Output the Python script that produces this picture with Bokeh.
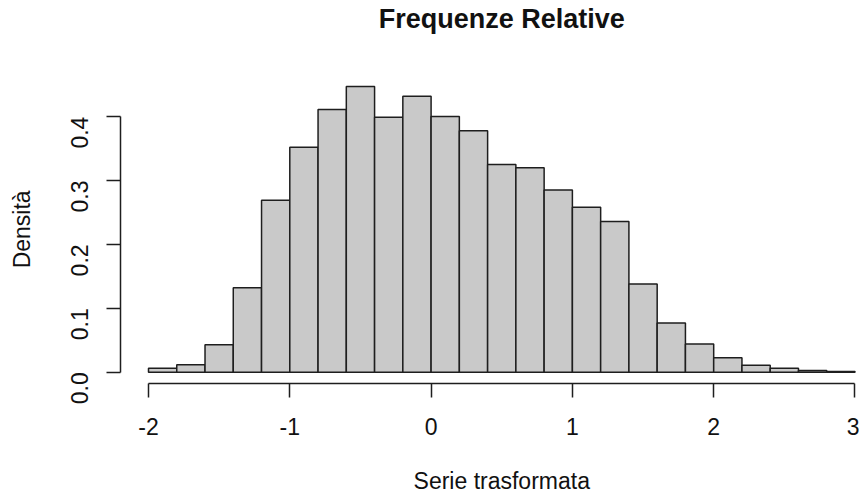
from bokeh.plotting import figure
from bokeh.models import ColumnDataSource, FixedTicker, NumeralTickFormatter, Range1d, Label
from bokeh.embed import file_html
from bokeh.resources import INLINE
import math

# Histogram bins and relative-frequency densities
bin_left = [-2.0, -1.8, -1.6, -1.4, -1.2, -1.0, -0.8, -0.6, -0.4, -0.2,
            0.0, 0.2, 0.4, 0.6, 0.8, 1.0, 1.2, 1.4, 1.6, 1.8,
            2.0, 2.2, 2.4, 2.6, 2.8]
bin_right = [-1.8, -1.6, -1.4, -1.2, -1.0, -0.8, -0.6, -0.4, -0.2, 0.0,
             0.2, 0.4, 0.6, 0.8, 1.0, 1.2, 1.4, 1.6, 1.8, 2.0,
             2.2, 2.4, 2.6, 2.8, 3.0]
density = [0.006, 0.0115, 0.043, 0.132, 0.269, 0.352, 0.411, 0.447, 0.399, 0.432,
           0.400, 0.378, 0.325, 0.320, 0.285, 0.258, 0.236, 0.138, 0.077, 0.044,
           0.0225, 0.011, 0.006, 0.0025, 0.001]

x_ticks = [-2, -1, 0, 1, 2, 3]
x_tick_labels = ["-2", "-1", "0", "1", "2", "3"]
y_ticks = [0.0, 0.1, 0.2, 0.3, 0.4]

FONT = "Liberation Sans"
INK = "#111111"
LINE = "#1e1e1e"

src = ColumnDataSource(dict(left=bin_left, right=bin_right, top=density,
                            bottom=[0.0] * len(density)))

# Plot region in the R sense: data range padded by 4% on each side
x_lo, x_hi = bin_left[0], bin_right[-1]
x_pad = 0.04 * (x_hi - x_lo)
y_hi = max(density)
y_pad = 0.04 * y_hi

# The frame covers the whole canvas; axes are pinned at the plot-region edges
p = figure(width=859, height=495, output_backend="svg", toolbar_location=None,
           x_range=Range1d(-3.0474, 3.0319), y_range=Range1d(-0.19296, 0.58169),
           min_border=0)

p.quad(left="left", right="right", top="top", bottom="bottom", source=src,
       fill_color="#c9c9c9", line_color=LINE, line_width=1.5)

p.grid.visible = False
p.outline_line_color = None
p.background_fill_color = "white"
p.border_fill_color = "white"

# x axis
xa = p.xaxis[0]
xa.ticker = FixedTicker(ticks=x_ticks)
xa.major_label_overrides = {t: s for t, s in zip(x_ticks, x_tick_labels)}
xa.bounds = (x_ticks[0], x_ticks[-1])
xa.fixed_location = -y_pad

# y axis
ya = p.yaxis[0]
ya.ticker = FixedTicker(ticks=y_ticks)
ya.bounds = (y_ticks[0], y_ticks[-1])
ya.formatter = NumeralTickFormatter(format="0.0")
ya.major_label_orientation = math.pi / 2
ya.fixed_location = x_lo - x_pad

for ax in (xa, ya):
    ax.axis_line_color = LINE
    ax.axis_line_width = 1.5
    ax.major_tick_line_color = LINE
    ax.major_tick_line_width = 1.5
    ax.major_tick_in = 0
    ax.major_tick_out = 14
    ax.minor_tick_line_color = None
    ax.major_label_text_font = FONT
    ax.major_label_text_font_size = "23px"
    ax.major_label_text_color = INK

xa.major_label_standoff = 20
ya.major_label_standoff = 27

x_mid = (x_lo - x_pad + x_hi + x_pad) / 2
y_mid = (-y_pad + y_hi + y_pad) / 2

# Title and axis titles
p.add_layout(Label(x=x_mid, y=477, x_units="data", y_units="screen",
                   text="Frequenze Relative", text_font=FONT, text_font_size="27px",
                   text_font_style="bold", text_color=INK,
                   text_align="center", text_baseline="alphabetic"))
p.add_layout(Label(x=x_mid, y=15, x_units="data", y_units="screen",
                   text="Serie trasformata", text_font=FONT, text_font_size="23px",
                   text_color=INK, text_align="center", text_baseline="alphabetic"))
p.add_layout(Label(x=21, y=y_mid, x_units="screen", y_units="data",
                   text="Densità", text_font=FONT, text_font_size="23px",
                   text_color=INK, angle=math.pi / 2,
                   text_align="center", text_baseline="alphabetic"))

open("out.html", "w").write(file_html(p, INLINE))
